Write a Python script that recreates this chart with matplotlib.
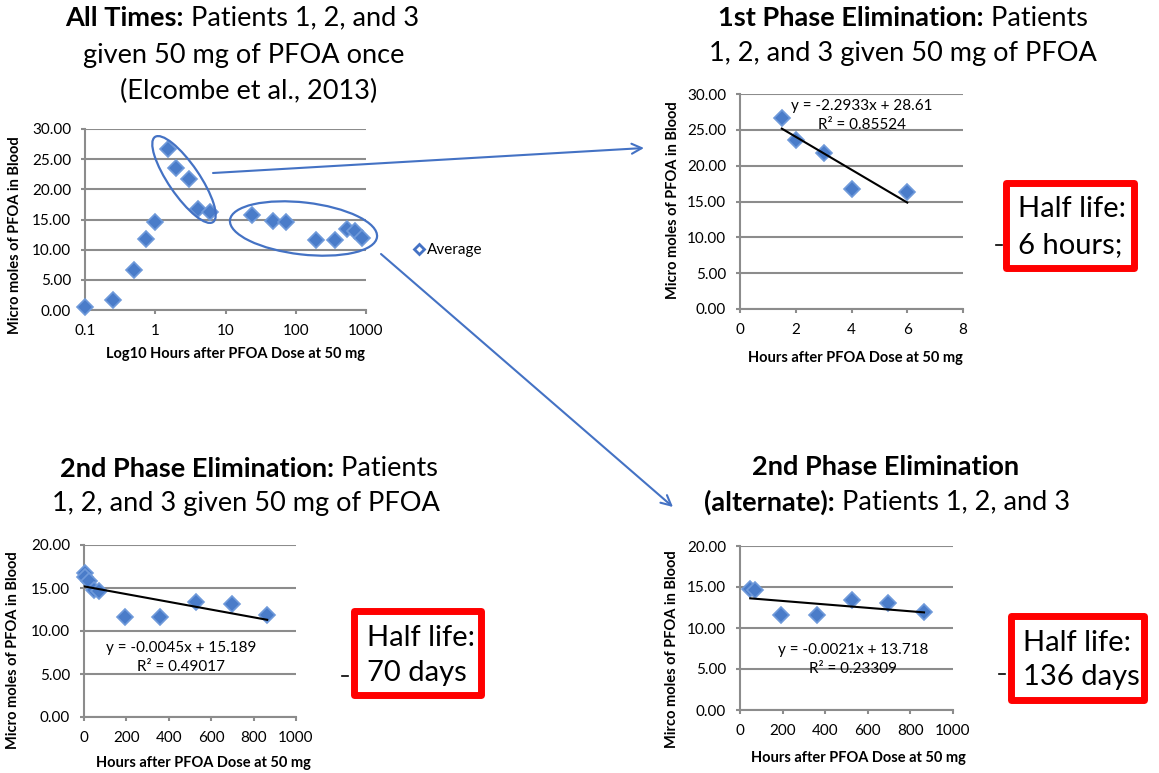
import numpy as np
import matplotlib
matplotlib.use('Agg')
import matplotlib.pyplot as plt
from matplotlib.patches import Ellipse, Rectangle

plt.rcParams['font.family'] = ['Lato', 'DejaVu Sans']

W, H = 1159, 773

# PFOA in blood after a single 50 mg dose (average of patients 1-3)
hours = [0.1, 0.25, 0.5, 0.75, 1, 1.5, 2, 3, 4, 6, 24, 48, 72, 192, 360, 528, 696, 864]
umol = [0.5, 1.7, 6.6, 11.8, 14.6, 26.7, 23.6, 21.7, 16.8, 16.3, 15.8, 14.8, 14.6,
        11.6, 11.6, 13.4, 13.1, 11.9]

# which points go in each elimination panel
phase1_idx = [5, 6, 7, 8, 9]
phase2_idx = [8, 9, 10, 11, 12, 13, 14, 15, 16, 17]
alt_idx = [11, 12, 13, 14, 15, 16, 17]

# Excel trendlines (slope, intercept, R2) as printed on the chart
fit1 = (-2.2933, 28.61, 0.85524)
fit2 = (-0.0045, 15.189, 0.49017)
fit3 = (-0.0021, 13.718, 0.23309)

half_lives = ['6 hours;', '70 days', '136 days']

BLUE = '#4a7cc9'
LINE_BLUE = '#4472c4'
GRID = '#8c8c8c'

fig = plt.figure(figsize=(W / 100, H / 100), dpi=100)


def axes_px(l, t, r, b):
    return fig.add_axes([l / W, 1 - b / H, (r - l) / W, (b - t) / H])


def style(ax, yticks):
    ax.set_yticks(yticks)
    ax.set_ylim(yticks[0], yticks[-1])
    ax.yaxis.set_major_formatter(matplotlib.ticker.FormatStrFormatter('%.2f'))
    ax.grid(axis='y', color=GRID, lw=1.5)
    ax.set_axisbelow(True)
    for s in ['top', 'right']:
        ax.spines[s].set_visible(False)
    for s in ['left', 'bottom']:
        ax.spines[s].set_color(GRID)
        ax.spines[s].set_linewidth(1.5)
    ax.tick_params(axis='both', direction='out', length=3, width=1.5, color=GRID,
                   labelsize=11)
    ax.tick_params(axis='y', pad=7)
    ax.tick_params(axis='x', pad=7)
    ax.minorticks_off()


def pick(idx):
    return [hours[i] for i in idx], [umol[i] for i in idx]


def trend(ax, xs, fit):
    x = np.array([min(xs), max(xs)])
    ax.plot(x, fit[0] * x + fit[1], color='black', lw=1.5, zorder=4)


mk = dict(marker='D', ls='none', color=BLUE, mec='#6f9ada', mew=1.2, zorder=3,
          clip_on=False)

# panel 1: all times, log x
ax1 = axes_px(85, 129, 366, 310)
ax1.plot(hours, umol, ms=8.5, **mk)
ax1.set_xscale('log')
ax1.set_xlim(0.1, 1000)
ax1.set_xticks([0.1, 1, 10, 100, 1000])
ax1.set_xticklabels(['0.1', '1', '10', '100', '1000'])
style(ax1, [0, 5, 10, 15, 20, 25, 30])

# panel 2: first phase
ax2 = axes_px(740, 94, 963, 309)
x2, y2 = pick(phase1_idx)
ax2.plot(x2, y2, ms=7.8, **mk)
trend(ax2, x2, fit1)
ax2.set_xlim(0, 8)
ax2.set_xticks([0, 2, 4, 6, 8])
style(ax2, [0, 5, 10, 15, 20, 25, 30])

# panel 3: second phase
ax3 = axes_px(84, 545, 296, 717)
x3, y3 = pick(phase2_idx)
ax3.plot(x3, y3, ms=7.8, **mk)
trend(ax3, x3, fit2)
ax3.set_xlim(0, 1000)
ax3.set_xticks([0, 200, 400, 600, 800, 1000])
style(ax3, [0, 5, 10, 15, 20])

# panel 4: second phase (alternate)
ax4 = axes_px(740, 546, 953, 710)
x4, y4 = pick(alt_idx)
ax4.plot(x4, y4, ms=7.8, **mk)
trend(ax4, x4, fit3)
ax4.set_xlim(0, 1000)
ax4.set_xticks([0, 200, 400, 600, 800, 1000])
style(ax4, [0, 5, 10, 15, 20])

# overlay in pixel coordinates for titles, labels and annotations
ov = fig.add_axes([0, 0, 1, 1], zorder=10)
ov.set_xlim(0, W)
ov.set_ylim(H, 0)
ov.axis('off')

TS = 19.5


def title_line(x, y, bold, normal):
    if bold:
        ov.text(x, y, bold, ha='right', va='center', fontsize=TS, fontweight='bold')
    ov.text(x, y, normal, ha='left', va='center', fontsize=TS)


title_line(184, 18, 'All Times:', ' Patients 1, 2, and 3')
ov.text(244, 55, 'given 50 mg of PFOA once', ha='center', va='center', fontsize=TS)
ov.text(249, 91, '(Elcombe et al., 2013)', ha='center', va='center', fontsize=TS)

title_line(984, 18, '1st Phase Elimination:', ' Patients')
ov.text(903, 53, '1, 2, and 3 given 50 mg of PFOA', ha='center', va='center', fontsize=TS)

title_line(334, 469, '2nd Phase Elimination:', ' Patients')
ov.text(246, 503, '1, 2, and 3 given 50 mg of PFOA', ha='center', va='center', fontsize=TS)

ov.text(886, 467, '2nd Phase Elimination', ha='center', va='center', fontsize=TS,
        fontweight='bold')
title_line(835, 502, '(alternate):', ' Patients 1, 2, and 3')

# axis labels
LS = 10.5
ylab = 'Micro moles of PFOA in Blood'
ov.text(15, 235, ylab, rotation=90, ha='center', va='center', fontsize=LS, fontweight='bold')
ov.text(673, 200, ylab, rotation=90, ha='center', va='center', fontsize=LS, fontweight='bold')
ov.text(13, 650, ylab, rotation=90, ha='center', va='center', fontsize=LS, fontweight='bold')
ov.text(672, 649, 'Mirco moles of PFOA in Blood', rotation=90, ha='center', va='center',
        fontsize=LS, fontweight='bold')

xlab = 'Hours after PFOA Dose at 50 mg'
ov.text(235, 354, 'Log10 Hours after PFOA Dose at 50 mg', ha='center', va='center',
        fontsize=LS, fontweight='bold')
ov.text(855, 358, xlab, ha='center', va='center', fontsize=LS, fontweight='bold')
ov.text(203, 763, xlab, ha='center', va='center', fontsize=LS, fontweight='bold')
ov.text(858, 758, xlab, ha='center', va='center', fontsize=LS, fontweight='bold')

# trendline equations
ES = 11
for (cx, cy), fit in zip([(862, 106), (181, 648), (853, 650)], [fit1, fit2, fit3]):
    ov.text(cx, cy, f'y = {fit[0]}x + {fit[1]}', ha='center', va='center', fontsize=ES)
    ov.text(cx, cy + 19, f'R² = {fit[2]}', ha='center', va='center', fontsize=ES)

# legend of panel 1
ov.plot([419], [249], marker='D', ms=5.5, mfc='none', mec=LINE_BLUE, mew=2)
ov.text(427, 250, 'Average', ha='left', va='center', fontsize=11)

# ellipses and arrows
ov.add_patch(Ellipse((184, 179.5), 103, 31, angle=55.7, fill=False, ec=LINE_BLUE, lw=1.6))
ov.add_patch(Ellipse((303.5, 228.5), 148, 52, angle=6.6, fill=False, ec=LINE_BLUE, lw=1.6))
arrow = dict(arrowstyle='->', color=LINE_BLUE, lw=1.5, mutation_scale=18,
             shrinkA=0, shrinkB=0)
ov.annotate('', xy=(644, 148), xytext=(213, 173), arrowprops=arrow)
ov.annotate('', xy=(673, 507), xytext=(381, 254), arrowprops=arrow)

# half-life boxes
HS = 21
boxes = [(1002, 179, 1137, 271), (350, 607, 484, 698), (1007, 612, 1147, 703)]
text_pos = [(1018, 209, 245), (367, 638, 673), (1023, 643, 677)]
dash_pos = [(999, 245), (345, 676), (1002, 674)]
for (l, t, r, b), (tx, ty1, ty2), (dx, dy), hl in zip(boxes, text_pos, dash_pos, half_lives):
    ov.add_patch(Rectangle((l + 3.5, t + 3.5), r - l - 7, b - t - 7, fill=False,
                           ec='#ff0000', lw=5, joinstyle='round'))
    ov.text(tx, ty1, 'Half life:', ha='left', va='center', fontsize=HS)
    ov.text(tx, ty2, hl, ha='left', va='center', fontsize=HS)
    ov.plot([dx - 3, dx + 3], [dy, dy], color='black', lw=1.2)

fig.savefig('out.png', dpi=100)
